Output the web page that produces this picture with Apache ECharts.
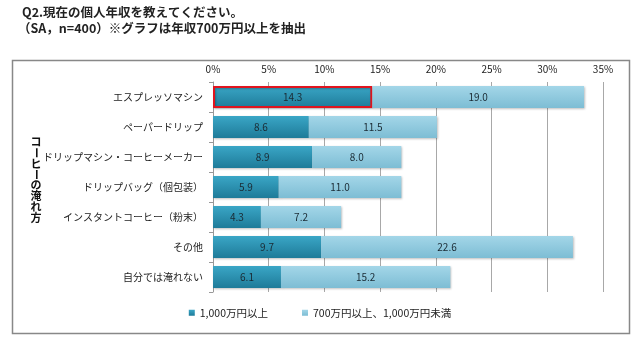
<!DOCTYPE html>
<html><head><meta charset="utf-8">
<script src="https://cdn.jsdelivr.net/npm/echarts@6/dist/echarts.min.js"></script>
<style>html,body{margin:0;padding:0;background:#fff}#c{width:640px;height:345px}</style>
</head><body><div id="c"></div>
<script>
const categories = ['エスプレッソマシン','ペーパードリップ','ドリップマシン・コーヒーメーカー','ドリップバッグ（個包装）','インスタントコーヒー（粉末）','その他','自分では淹れない'];
const seriesHigh = [14.3, 8.6, 8.9, 5.9, 4.3, 9.7, 6.1];
const seriesMid = [19.0, 11.5, 8.0, 11.0, 7.2, 22.6, 15.2];
const seriesNames = ['1,000万円以上','700万円以上、1,000万円未満'];
const titleLines = ['Q2.現在の個人年収を教えてください。','（SA，n=400）※グラフは年収700万円以上を抽出'];
const yAxisTitle = 'コーヒーの淹れ方';

const font = '"Noto Sans CJK JP", sans-serif';
const chart = echarts.init(document.getElementById('c'), null, {renderer:'canvas'});
const darkGrad = new echarts.graphic.LinearGradient(0,0,0,1,[{offset:0,color:'#3aa6c6'},{offset:1,color:'#1e7b99'}]);
const lightGrad = new echarts.graphic.LinearGradient(0,0,0,1,[{offset:0,color:'#a3d6e8'},{offset:1,color:'#7dbdd4'}]);

// vertical axis title, one glyph per line; long-vowel marks rotated as in vertical writing
const vChars = yAxisTitle.split('');
const vStep = 10.8, vTop = 142, vX = 36;
const vGraphics = vChars.map((ch,i)=>({
  type:'text', x:vX, y:vTop + i*vStep, rotation: ch==='ー' ? -Math.PI/2 : 0,
  style:{text:ch, font:'bold 11px '+font, fill:'#111', align:'center', verticalAlign:'middle'}
}));

chart.setOption({
  animation:false,
  textStyle:{fontFamily:font},
  graphic:[
    {type:'rect',shape:{x:12.5,y:60.5,width:617,height:273},style:{fill:'none',stroke:'#888',lineWidth:1.5}},
    {type:'text',left:22,top:6,style:{text:titleLines[0],font:'bold 12.5px '+font,fill:'#222'}},
    {type:'text',left:18,top:22,style:{text:titleLines[1],font:'bold 12.5px '+font,fill:'#222'}}
  ].concat(vGraphics),
  legend:{bottom:22,left:'center',itemWidth:6,itemHeight:6,itemGap:34,icon:'rect',
    textStyle:{fontSize:10.5,color:'#222',fontFamily:font},data:seriesNames},
  grid:{left:213,right:37,top:82,bottom:53,containLabel:false},
  xAxis:{type:'value',position:'top',min:0,max:35,interval:5,
    axisLabel:{formatter:'{value}%',fontSize:10,color:'#222',margin:8},
    axisLine:{show:false},axisTick:{show:false},
    splitLine:{lineStyle:{color:'#a8a8a8',width:1}}},
  yAxis:{type:'category',inverse:true,data:categories,
    axisLine:{show:true,lineStyle:{color:'#999'}},
    axisTick:{show:true,length:4,lineStyle:{color:'#999'}},
    axisLabel:{fontSize:10,color:'#222',margin:10}},
  series:[
    {name:seriesNames[0],type:'bar',stack:'s',barCategoryGap:'27%',
     itemStyle:{color:darkGrad,shadowColor:'rgba(0,0,0,0.25)',shadowBlur:2,shadowOffsetX:1,shadowOffsetY:1},
     label:{show:true,position:'inside',formatter:p=>p.value.toFixed(1),fontSize:10,color:'#1a2a33'},
     data:seriesHigh.map((v,i)=>i===0?{value:v,itemStyle:{borderColor:'#e0141e',borderWidth:2}}:v)},
    {name:seriesNames[1],type:'bar',stack:'s',
     itemStyle:{color:lightGrad,shadowColor:'rgba(0,0,0,0.25)',shadowBlur:2,shadowOffsetX:1,shadowOffsetY:1},
     label:{show:true,position:'inside',formatter:p=>p.value.toFixed(1),fontSize:10,color:'#1a2a33'},
     data:seriesMid}
  ]
});
</script></body></html>
